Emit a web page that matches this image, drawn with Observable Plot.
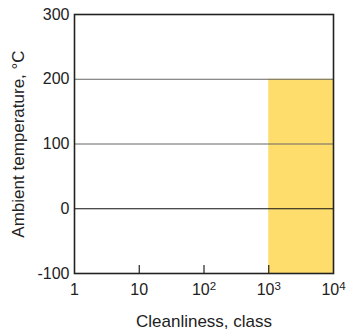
<!DOCTYPE html>
<html>
<head>
<meta charset="utf-8">
<script src="https://cdn.jsdelivr.net/npm/d3@7"></script>
<script src="https://cdn.jsdelivr.net/npm/@observablehq/plot@0.6"></script>
<style>
body { margin: 0; background: #fff; }
</style>
</head>
<body>
<div id="chart"></div>
<script>
const xTicks = [1, 10, 100, 1000, 10000];
const xTickBase = ["1", "10", "10", "10", "10"];
const xTickExp = ["", "", "2", "3", "4"];
const innerTicks = [10, 100, 1000];
const yTicks = [-100, 0, 100, 200, 300];
const gridLevels = [100, 200];
const zeroLevel = [0];
const regionX1 = [1000];
const regionX2 = [10000];
const regionY1 = [-100];
const regionY2 = [200];

const regions = regionX1.map((d, i) => ({x1: d, x2: regionX2[i], y1: regionY1[i], y2: regionY2[i]}));
const xLabelOf = new Map(xTicks.map((d, i) => [d, xTickBase[i] + (xTickExp[i] ? "^" + xTickExp[i] : "")]));

const W = 347, H = 331;
const mt = 14, mb = 58, ml = 74, mr = 14;
const font = "'Liberation Sans', Arial, sans-serif";

const chart = Plot.plot({
  width: W,
  height: H,
  marginTop: mt,
  marginBottom: mb,
  marginLeft: ml,
  marginRight: mr,
  style: {fontFamily: font, fontSize: "16px", color: "#222", background: "#fff"},
  x: {type: "log", domain: [1, 10000]},
  y: {domain: [-100, 300]},
  marks: [
    Plot.rect(regions, {x1: "x1", x2: "x2", y1: "y1", y2: "y2", fill: "#FEDD6C"}),
    Plot.ruleY(gridLevels, {stroke: "#666", strokeWidth: 1}),
    Plot.ruleY(zeroLevel, {stroke: "#111", strokeWidth: 1}),
    Plot.tickX(innerTicks, {stroke: "#222", strokeWidth: 1.2, insetTop: H - mt - mb - 8}),
    Plot.axisX(xTicks, {anchor: "bottom", tickSize: 0, tickPadding: 10, tickFormat: d => xLabelOf.get(d), fontSize: 16,
      label: null}),
    Plot.axisX({anchor: "bottom", ticks: [], label: "Cleanliness, class", labelAnchor: "center", labelArrow: "none", labelOffset: 53, fontSize: 17}),
    Plot.axisY(yTicks, {anchor: "left", tickSize: 0, tickPadding: 5, tickFormat: d => String(d), fontSize: 16, label: null}),
    Plot.axisY({anchor: "left", ticks: [], label: "Ambient temperature, °C", labelAnchor: "center", labelArrow: "none", labelOffset: 63, fontSize: 17}),
    Plot.frame({stroke: "#222", strokeWidth: 1.6})
  ]
});

// Render exponents as raised superscripts
chart.querySelectorAll("text").forEach(t => {
  const s = t.textContent;
  const m = /^(\d+)\^(\d+)$/.exec(s);
  if (!m) return;
  t.textContent = "";
  const ns = "http://www.w3.org/2000/svg";
  const a = document.createElementNS(ns, "tspan");
  a.textContent = m[1];
  const b = document.createElementNS(ns, "tspan");
  b.textContent = m[2];
  b.setAttribute("dy", "-0.45em");
  b.setAttribute("font-size", "0.72em");
  t.appendChild(a);
  t.appendChild(b);
});
document.getElementById("chart").appendChild(chart);
</script>
</body>
</html>
